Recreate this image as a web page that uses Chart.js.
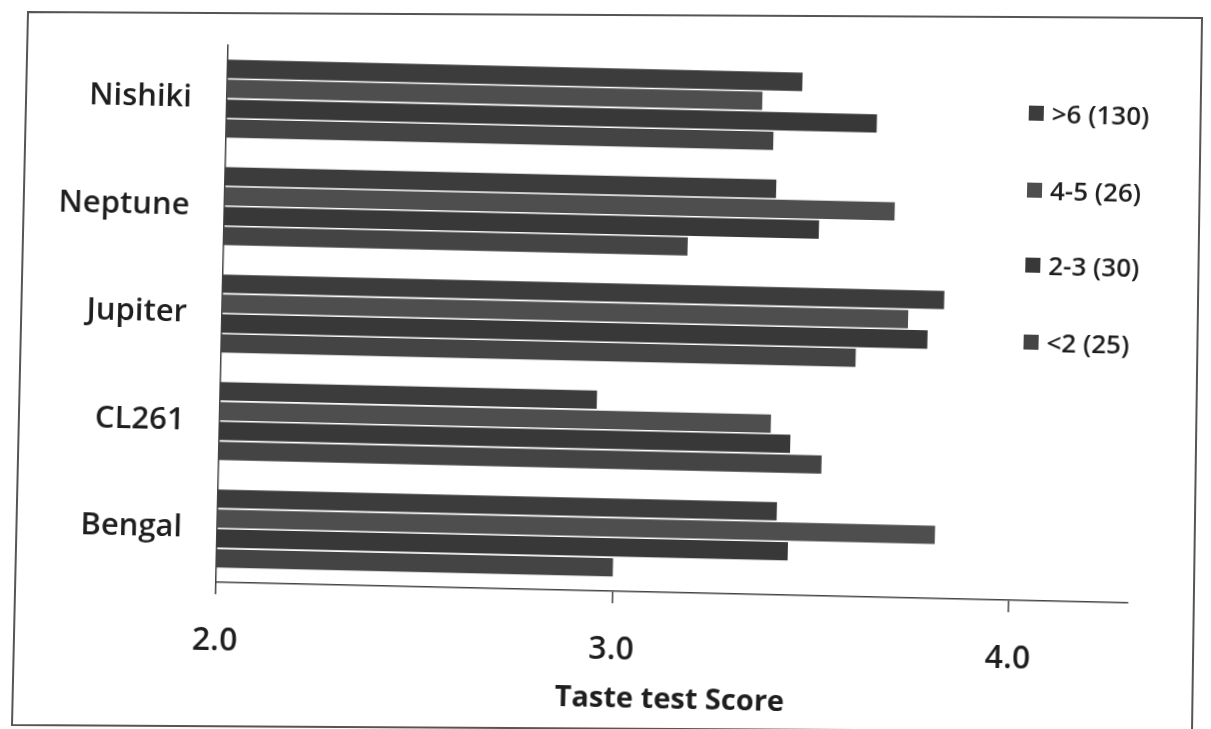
<!DOCTYPE html>
<html>
<head>
<meta charset="utf-8">
<script src="https://cdn.jsdelivr.net/npm/chart.js@4.4.1/dist/chart.umd.min.js"></script>
<style>
  html, body { margin: 0; padding: 0; background: #ffffff; }
  body { width: 1211px; height: 729px; position: relative; overflow: hidden; }
  #frame { position: absolute; left: 0; top: 0; }
  #sheet {
    position: absolute; left: 0; top: 0; width: 1211px; height: 729px;
    transform: rotate(1.3deg); transform-origin: 605px 364px;
  }
  #chart { position: absolute; left: 0; top: 0; }
  .legend-item {
    position: absolute; left: 1023px; height: 30px;
    display: flex; align-items: center;
    font-family: 'Open Sans', sans-serif; font-size: 26px; font-weight: 600; color: #1e1e1e;
    white-space: nowrap;
  }
  .legend-item .swatch { width: 15px; height: 15px; margin-right: 8px; }
</style>
</head>
<body>
<svg id="frame" width="1211" height="729">
  <polygon points="28,12 1202,18 1192,732 12,725" fill="none" stroke="#555" stroke-width="2"/>
</svg>
<div id="sheet">
  <canvas id="chart" width="1211" height="729"></canvas>
  <div id="legend"></div>
</div>
<script>
// Rice varieties (top to bottom) and mean taste-test scores by age group
const varieties = ['Nishiki', 'Neptune', 'Jupiter', 'CL261', 'Bengal'];
const seriesNames = ['>6 (130)', '4-5 (26)', '2-3 (30)', '<2 (25)'];
const over6 = [3.45, 3.39, 3.82, 2.95, 3.41];
const age4to5 = [3.35, 3.69, 3.73, 3.39, 3.81];
const age2to3 = [3.64, 3.50, 3.78, 3.44, 3.44];
const under2 = [3.38, 3.17, 3.60, 3.52, 3.00];
const seriesColors = ['#3c3c3c', '#4e4e4e', '#383838', '#444444'];
const scoreTicks = [2.0, 3.0, 4.0];

const seriesValues = [over6, age4to5, age2to3, under2];

const FONT = "'Open Sans', sans-serif";

const chart = new Chart(document.getElementById('chart'), {
  type: 'bar',
  data: {
    labels: varieties,
    datasets: seriesNames.map((name, i) => ({
      label: name,
      data: seriesValues[i],
      backgroundColor: seriesColors[i],
      borderWidth: 0,
      categoryPercentage: 0.74,
      barPercentage: 0.92
    }))
  },
  options: {
    indexAxis: 'y',
    responsive: false,
    animation: false,
    layout: { padding: { top: 41, right: 78, bottom: 0, left: 0 } },
    plugins: {
      legend: { display: false },
      tooltip: { enabled: false }
    },
    scales: {
      x: {
        min: 2,
        max: 4.3,
        afterFit: (s) => { s.height = 138; },
        afterBuildTicks: (s) => { s.ticks = scoreTicks.map(v => ({ value: v })); },
        ticks: {
          padding: 28,
          color: '#1e1e1e',
          font: { family: FONT, size: 32, weight: '600' },
          callback: (v) => Number(v).toFixed(1)
        },
        grid: {
          display: true,
          drawOnChartArea: false,
          drawTicks: true,
          tickLength: 12,
          color: '#444',
          lineWidth: 1.5
        },
        border: { display: true, color: '#444', width: 1.5 },
        title: {
          display: true,
          text: 'Taste test Score',
          color: '#1e1e1e',
          font: { family: FONT, size: 29, weight: 'bold' },
          padding: { top: 0, bottom: 13 }
        }
      },
      y: {
        afterFit: (s) => { s.width = 221; },
        ticks: {
          padding: 35,
          color: '#1e1e1e',
          font: { family: FONT, size: 31, weight: '600' }
        },
        grid: { display: false, drawTicks: false },
        border: { display: true, color: '#444', width: 1.5 }
      }
    }
  }
});

// Legend built from the dataset names and colours
const legend = document.getElementById('legend');
const legendCentres = [103, 180, 255, 332];
chart.data.datasets.forEach((ds, i) => {
  const item = document.createElement('div');
  item.className = 'legend-item';
  item.style.top = (legendCentres[i] - 15) + 'px';
  const sw = document.createElement('span');
  sw.className = 'swatch';
  sw.style.background = ds.backgroundColor;
  const tx = document.createElement('span');
  tx.textContent = ds.label;
  item.appendChild(sw);
  item.appendChild(tx);
  legend.appendChild(item);
});
</script>
</body>
</html>
